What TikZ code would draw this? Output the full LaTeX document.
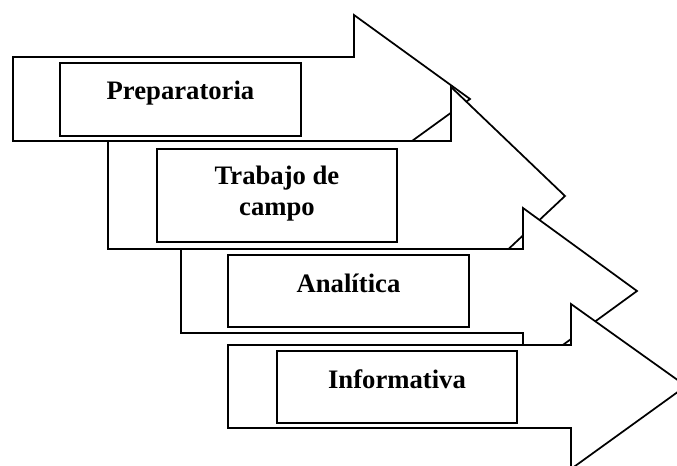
\documentclass[tikz,border=0pt]{standalone}
\usepackage{fontspec}
\setmainfont{Liberation Serif}
\usetikzlibrary{fit}

\begin{document}
\begin{tikzpicture}[x=0.75pt, y=-0.75pt,
    stagearrow/.style={draw, fill=white, line width=1.3pt, line join=miter},
    stagebox/.style={draw, fill=white, line width=1.3pt, inner sep=0pt},
    stagelabel/.style={font=\fontsize{20}{23.25}\selectfont\bfseries, align=center, inner sep=0pt, anchor=base}
  ]
    \useasboundingbox (0,0) rectangle (677,466);
    \clip (0,0) rectangle (677,466);

    % arrows, each one laid over the one before
    \draw[stagearrow] (13,57) -- (354,57) -- (354,15) -- (470,99) -- (354,183) -- (354,141) -- (13,141) -- cycle;
    \node[stagebox, fit={(60,63) (301,136)}] (prep) {};
    \node[stagelabel] (prepT) at (180.5,100) {Preparatoria};

    \draw[stagearrow] (108,141) -- (451,141) -- (451,87) -- (565,196) -- (451,303) -- (451,249) -- (108,249) -- cycle;
    \node[stagebox, fit={(157,149) (397,242)}] (campo) {};
    \node[stagelabel] (campoT) at (277,216) {Trabajo de\\campo};

    \draw[stagearrow] (181,249) -- (523,249) -- (523,208) -- (637,291) -- (523,374) -- (523,333) -- (181,333) -- cycle;
    \node[stagebox, fit={(228,255) (469,327)}] (anal) {};
    \node[stagelabel] (analT) at (348.5,292) {Analítica};

    \draw[stagearrow] (228,345) -- (571,345) -- (571,304) -- (686,386) -- (571,469) -- (571,428) -- (228,428) -- cycle;
    \node[stagebox, fit={(277,351) (517,423)}] (info) {};
    \node[stagelabel] (infoT) at (397,388) {Informativa};
  \end{tikzpicture}
\end{document}
